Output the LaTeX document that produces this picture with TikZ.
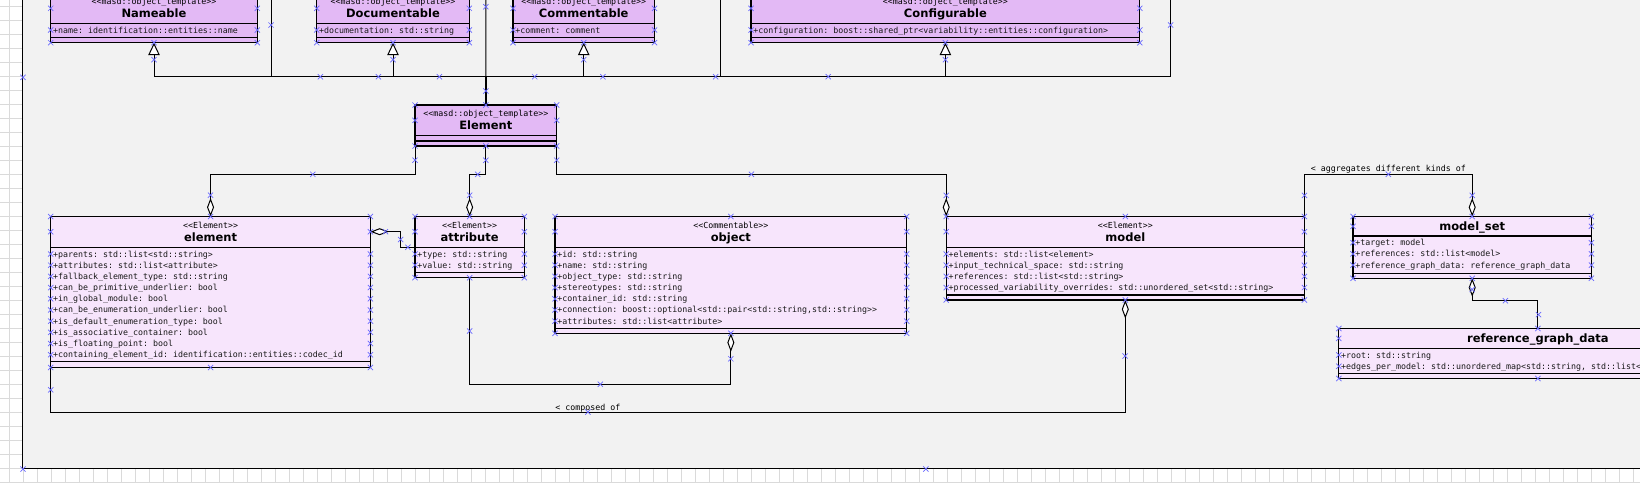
\documentclass[tikz,border=0pt]{standalone}
\usepackage{fontspec}
\setmainfont{DejaVu Sans}
\setmonofont{DejaVu Sans Mono}
\usetikzlibrary{arrows.meta,calc}
\definecolor{canvas}{RGB}{242,242,242}
\definecolor{gridc}{RGB}{218,218,218}
\definecolor{topfill}{RGB}{227,185,245}
\definecolor{lowfill}{RGB}{247,229,252}
\definecolor{cpc}{RGB}{105,105,255}
\newcommand\ubox[8]{%
  \node[cbox,fill=#2,anchor=north west,minimum width={#4pt-#3pt},minimum height={#8pt-#5pt}] (#1) at (#3,#5) {};
  \draw[sepl] (#3,#6) -- (#4,#6);
  \draw[sepl] (#3,#7) -- (#4,#7);
}
\newcommand\urows[4]{\foreach \rowtxt [count=\ri] in {#4}{\node[rowt] (#1-r\ri) at (#2,{#3+11.19*(\ri-1)}) {\rowtxt};}}
\newcommand\mk[2]{\draw[cpm] ({#1-2.6},{#2-2.6}) -- ({#1+2.6},{#2+2.6}) ({#1-2.6},{#2+2.6}) -- ({#1+2.6},{#2-2.6});}
\newcommand\boxmarks[7]{%
  \pgfmathsetmacro\bmx{(#1+#2)/2}%
  \mk{#1}{#3}\mk{\bmx}{#3}\mk{#2}{#3}%
  \mk{#1}{#4}\mk{\bmx}{#4}\mk{#2}{#4}%
  \mk{#1}{#5}\mk{#2}{#5}%
  \ifnum#7>0 \foreach \ri in {1,...,#7}{\pgfmathsetmacro\yy{#6+11.19*(\ri-1)}\mk{#1}{\yy}\mk{#2}{\yy}}\fi
}
\begin{document}
\begin{tikzpicture}[x=1pt,y=-1pt,
  cbox/.style={draw=black,line width=1.2,inner sep=0,outer sep=0,rectangle},
  sepl/.style={draw=black,line width=1.5},
  conn/.style={draw=black,line width=1.0},
  agg/.style={conn,-{Diamond[length=18.5pt,width=7pt,fill=white,line width=1pt]}},
  aggs/.style={conn,{Diamond[length=18.5pt,width=7pt,fill=white,line width=1pt]}-},
  gen/.style={conn,-{Triangle[length=12.5pt,width=11.5pt,fill=white,line width=1pt]}},
  st/.style={font=\ttfamily\fontsize{8.3}{10}\selectfont,inner sep=0,anchor=base},
  nm/.style={font=\bfseries\fontsize{11.5}{13}\selectfont,inner sep=0,anchor=base},
  rowt/.style={font=\ttfamily\fontsize{8.3}{10}\selectfont,inner sep=0,anchor=base west,text=black!90},
  lab/.style={font=\ttfamily\fontsize{8.3}{10}\selectfont,inner sep=0,anchor=base},
  cpm/.style={draw=cpc,line width=0.7},
]
\useasboundingbox (0,0) rectangle (1640,483);
\clip (0,0) rectangle (1640,483);
% background grid and canvas
\fill[white] (0,0) rectangle (1640,483);
\foreach \gx in {9.3,23.3,...,1640} \draw[gridc,line width=0.8] (\gx,0) -- (\gx,483);
\foreach \gy in {6.7,20.7,...,483} \draw[gridc,line width=0.8] (0,\gy) -- (1640,\gy);
\fill[canvas] (22.7,-10) rectangle (1650,468.5);
\draw[line width=1.5] (22.7,-10) -- (22.7,468.5) -- (1650,468.5);

% free ends of connectors leaving the view
\coordinate (upA) at (271,-40);
\coordinate (upB) at (720.2,-40);
\coordinate (upC) at (1170.6,-40);
\coordinate (upD) at (485.8,-40);

% boxes
\ubox{nameable}{topfill}{50.7}{257.3}{-6.7}{23.3}{37.3}{42.7}
\ubox{documentable}{topfill}{316.7}{469.3}{-6.7}{23.3}{37.3}{42.7}
\ubox{commentable}{topfill}{513}{654.5}{-6.7}{23.3}{37.3}{42.7}
\ubox{configurable}{topfill}{751}{1139.8}{-6.7}{23.3}{37.3}{42.7}
\ubox{Element}{topfill}{415}{556.7}{105}{135.5}{140.8}{146}
\ubox{element}{lowfill}{50.7}{370.4}{216.5}{247.3}{361.7}{367.5}
\ubox{attribute}{lowfill}{415}{524.3}{216.5}{247.3}{272.7}{277.7}
\ubox{object}{lowfill}{555}{906.7}{216.5}{247.3}{328.3}{333.3}
\ubox{model}{lowfill}{946.2}{1304.4}{216.5}{247.3}{295}{300}
\ubox{modelset}{lowfill}{1353}{1591.4}{216.5}{236}{273.3}{278.3}
\ubox{refgraph}{lowfill}{1338.8}{1737}{328.5}{348.3}{373.3}{378.5}

% generalization connectors
\foreach \b in {nameable,documentable,commentable,configurable}
  \draw[gen] (Element.north) -- ++(0,-28.3) -| (\b.south);
\foreach \c in {upA,upB,upC}
  \draw[conn] (Element.north) -- ++(0,-28.3) -| (\c);
\draw[conn] (Element.north) -- (upD);
\draw[conn,line width=2.6] (Element.north) -- ++(0,-28.3);

% texts of boxes
\node[st] (nameable-st) at (154,4.3) {<<masd::object\_template>>};
\node[nm] (nameable-nm) at (154,17.5) {Nameable};
\urows{nameable}{52.9}{33}{+name: identification::entities::name}
\node[st] (documentable-st) at (393,4.3) {<<masd::object\_template>>};
\node[nm] (documentable-nm) at (393,17.5) {Documentable};
\urows{documentable}{318.9}{33}{+documentation: std::string}
\node[st] (commentable-st) at (583.75,4.3) {<<masd::object\_template>>};
\node[nm] (commentable-nm) at (583.75,17.5) {Commentable};
\urows{commentable}{515.2}{33}{+comment: comment}
\node[st] (configurable-st) at (945.4,4.3) {<<masd::object\_template>>};
\node[nm] (configurable-nm) at (945.4,17.5) {Configurable};
\urows{configurable}{753.2}{33}{+configuration: boost::shared\_ptr<variability::entities::configuration>}
\node[st] (Element-st) at (485.85,116) {<<masd::object\_template>>};
\node[nm] (Element-nm) at (485.85,129.2) {Element};

\node[st] (element-st) at (210.55,228) {<<Element>>};
\node[nm] (element-nm) at (210.55,241.5) {element};
\urows{element}{52.9}{257}{+parents: std::list<std::string>,+attributes: std::list<attribute>,+fallback\_element\_type: std::string,+can\_be\_primitive\_underlier: bool,+in\_global\_module: bool,+can\_be\_enumeration\_underlier: bool,+is\_default\_enumeration\_type: bool,+is\_associative\_container: bool,+is\_floating\_point: bool,+containing\_element\_id: identification::entities::codec\_id}

\node[st] (attribute-st) at (469.65,228) {<<Element>>};
\node[nm] (attribute-nm) at (469.65,241.5) {attribute};
\urows{attribute}{417.2}{257}{+type: std::string,+value: std::string}

\node[st] (object-st) at (730.85,228) {<<Commentable>>};
\node[nm] (object-nm) at (730.85,241.5) {object};
\urows{object}{557.2}{257}{+id: std::string,+name: std::string,+object\_type: std::string,+stereotypes: std::string,+container\_id: std::string,{+connection: boost::optional<std::pair<std::string,std::string>>},+attributes: std::list<attribute>}

\node[st] (model-st) at (1125.3,228) {<<Element>>};
\node[nm] (model-nm) at (1125.3,241.5) {model};
\urows{model}{948.4}{257}{+elements: std::list<element>,+input\_technical\_space: std::string,+references: std::list<std::string>,+processed\_variability\_overrides: std::unordered\_set<std::string>}

\node[nm] (modelset-nm) at (1472.2,230.5) {model\_set};
\urows{modelset}{1355.2}{245.7}{+target: model,+references: std::list<model>,+reference\_graph\_data: reference\_graph\_data}

\node[nm] (refgraph-nm) at (1537.9,342.5) {reference\_graph\_data};
\urows{refgraph}{1341}{358}{+root: std::string,{+edges\_per\_model: std::unordered\_map<std::string, std::list<std::string>>}}

% aggregation connectors
\draw[agg] (Element.south west) -- ++(0,28.3) -| (element.north);
\draw[agg] (Element.south) -- ++(0,28.3) -| (attribute.north);
\draw[agg] (Element.south east) -- ++(0,28.3) -| (model.north west);
\coordinate (attrL) at ($(attribute.north west)+(0,30.8)$);
\coordinate (elemR) at ($(element.north east)+(0,15.2)$);
\draw[agg] (attrL) -- ++(-14.3,0) |- (elemR);
\draw[agg] (attribute.south) -- ++(0,106.5) -| (object.south);
\draw[agg] (element.south west) -- ++(0,44.5) -| (model.south);
\node[lab] (composed) at (587.9,410) {< composed of};
\draw[agg] (model.north east) -- ++(0,-42.2) -| (modelset.north);
\node[lab] (aggr) at (1388.3,171.8) {< aggregates different kinds of};
\draw[aggs] (modelset.south) -- ++(0,22.4) -| (refgraph.north);

% connection point marks
\boxmarks{50.7}{257.3}{-6.7}{42.7}{8.3}{30}{1}
\boxmarks{316.7}{469.3}{-6.7}{42.7}{8.3}{30}{1}
\boxmarks{513}{654.5}{-6.7}{42.7}{8.3}{30}{1}
\boxmarks{751}{1139.8}{-6.7}{42.7}{8.3}{30}{1}
\boxmarks{415}{556.7}{105}{146}{120.3}{0}{0}
\boxmarks{50.7}{370.4}{216.5}{367.5}{231.7}{254}{10}
\boxmarks{415}{524.3}{216.5}{277.7}{231.7}{254}{2}
\boxmarks{555}{906.7}{216.5}{333.3}{231.7}{254}{7}
\boxmarks{946.2}{1304.4}{216.5}{300}{231.7}{254}{4}
\boxmarks{1353}{1591.4}{216.5}{278.3}{226.3}{242.7}{3}
\boxmarks{1338.8}{1737}{328.5}{378.5}{338.4}{355}{2}
\foreach \mx/\my in {154/59.7,320.4/76.7,485.8/91,393/59.7,439.4/76.7,583.7/59.7,534.7/76.7,945.4/59.7,715.6/76.7,271/25,378.4/76.7,602.9/76.7,828.2/76.7,1170.6/25,485.8/6.7,415/160.2,312.8/174.3,210.5/195.2,485.8/160.2,477.7/174.3,469.7/195.2,556.7/160.2,751.4/174.3,946.2/195.4,407.9/247.3,400.7/239.5,385.5/231.7,469.7/331,600.3/384.2,730.8/358.8,50.7/389.8,587.9/412,1125/356,1304.4/195.4,1388.3/174.3,1472.2/195.4,1472.2/289.5,1505.4/300.7,1538.5/314.6,23/77.3,23/469,925.8/469}
  {\mk{\mx}{\my}}
\end{tikzpicture}
\end{document}
